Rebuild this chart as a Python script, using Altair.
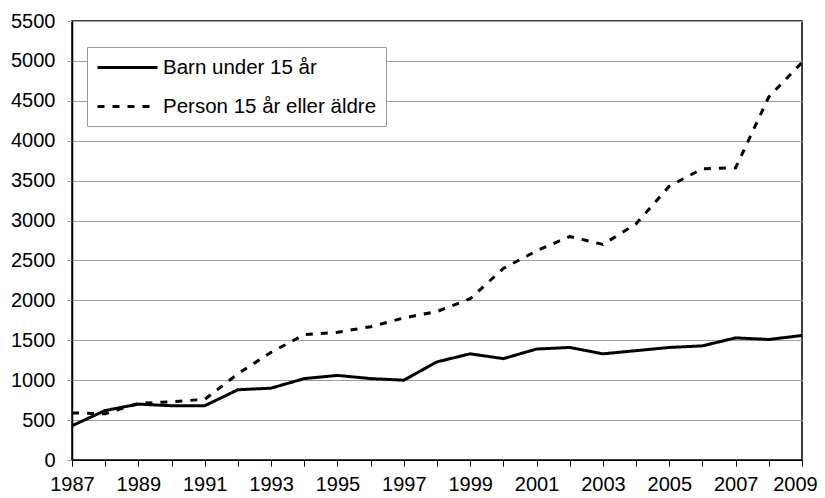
import altair as alt
import pandas as pd

years = list(range(1987, 2010))
series_names = ["Barn under 15 år", "Person 15 år eller äldre"]
barn = [430, 620, 700, 680, 680, 880, 900, 1020, 1060, 1020, 1000, 1230, 1330,
        1270, 1390, 1410, 1330, 1370, 1410, 1430, 1530, 1510, 1560]
person = [590, 580, 710, 730, 760, 1080, 1350, 1570, 1600, 1670, 1780, 1860, 2020,
          2400, 2620, 2800, 2700, 2960, 3430, 3650, 3660, 4550, 4980]
y_ticks = list(range(0, 5501, 500))

rows = []
for y, b, p in zip(years, barn, person):
    rows.append({"year": y, "value": b, "series": series_names[0]})
    rows.append({"year": y, "value": p, "series": series_names[1]})
df = pd.DataFrame(rows)

FONT = "Liberation Sans"

chart = (
    alt.Chart(df)
    .mark_line(color="black", strokeWidth=3)
    .encode(
        x=alt.X("year:Q",
                scale=alt.Scale(domain=[1987, 2009], nice=False, zero=False),
                axis=alt.Axis(values=years, format="d", grid=False,
                              labelExpr="datum.value % 2 == 1 ? datum.label : ''",
                              labelOffset={"condition": {"test": "datum.value == 2009", "value": -7},
                                           "value": 0},
                              tickSize=6, labelPadding=8, labelFontSize=20,
                              labelFont=FONT, labelColor="black",
                              domainColor="black", tickColor="black",
                              labelFlush=False, labelOverlap=False,
                              title=None)),
        y=alt.Y("value:Q",
                scale=alt.Scale(domain=[0, 5500], nice=False),
                axis=alt.Axis(values=y_ticks, format="d", grid=True,
                              gridColor="#a0a0a0",
                              gridWidth=1.2, tickSize=5, tickColor="#a0a0a0",
                              labelPadding=12, labelFontSize=20, labelFont=FONT,
                              labelColor="black", domainColor="black",
                              domainWidth=1.5, title=None)),
        strokeDash=alt.StrokeDash(
            "series:N",
            scale=alt.Scale(domain=series_names, range=[[1, 0], [7, 8]]),
            legend=alt.Legend(
                title=None, orient="none", legendX=15, legendY=26,
                symbolType="M-3,0H3", symbolSize=400, symbolOffset=20,
                symbolStrokeWidth=3, symbolStrokeColor="black",
                labelOffset=24, labelFontSize=20.5, labelFont=FONT,
                labelColor="black", labelLimit=400, rowPadding=17, padding=9,
                strokeColor="#999999", fillColor="white",
            ),
        ),
    )
    .properties(
        width=730, height=439,
        autosize=alt.AutoSizeParams(type="none"),
        padding={"left": 64, "top": 13, "right": 15, "bottom": 34},
    )
    .configure_view(stroke="black", strokeWidth=1.5)
)

chart.save("out.html", embed_options={"renderer": "svg", "actions": False})
